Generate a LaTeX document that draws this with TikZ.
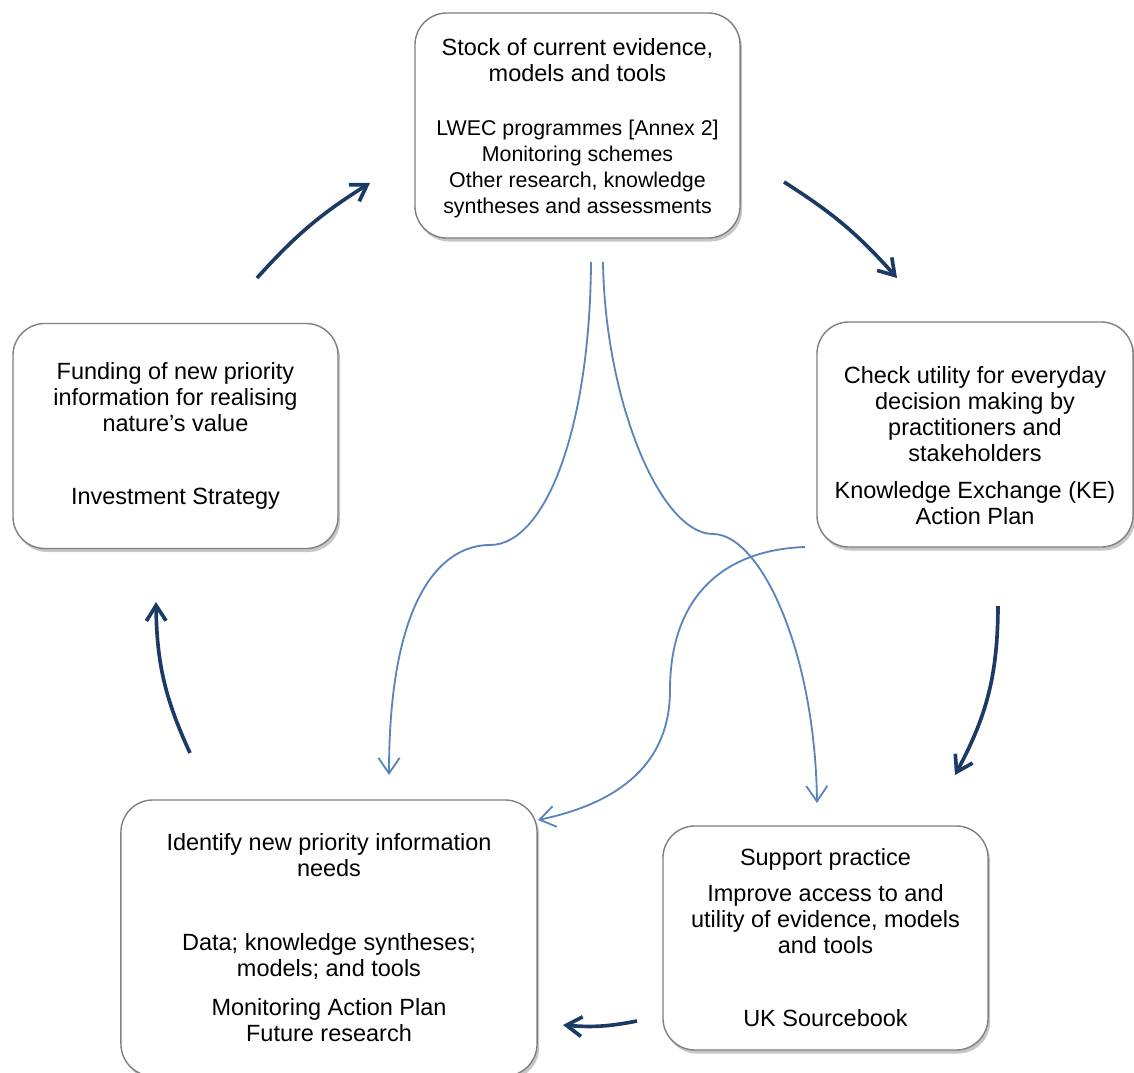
\documentclass[tikz,border=0pt]{standalone}
\usepackage{fontspec}
\setmainfont{Liberation Sans}
\usepackage{xcolor}
\usepackage{tikz}
\usetikzlibrary{arrows.meta, shadows}

\definecolor{cyclenavy}{HTML}{1B3A64}
\definecolor{flowblue}{HTML}{5A84BB}

\newcommand{\subtext}{\fontsize{15.2}{18.5}\selectfont}

\begin{document}
\begin{tikzpicture}[
    x=0.025cm, y=-0.025cm,
    every node/.style={font=\fontsize{16.7}{18.5}\selectfont},
    box/.style={draw=black!50, line width=1pt, rounded corners=0.8cm, fill=white, align=center, inner sep=0pt, minimum height=5.625cm, minimum width=#1, drop shadow={shadow xshift=1.5pt, shadow yshift=-2.5pt, opacity=0.45}},
    cycle/.style={-{Straight Barb[length=11pt, width=14pt, line width=2.6pt]}, line width=2.6pt, cyclenavy, bend left=#1},
    flow/.style={-{Straight Barb[length=11pt, width=15pt]}, line width=1.3pt, flowblue},
  ]

  \useasboundingbox (0,0) rectangle (1134,1073);

  % --- Boxes ---
  \node[box=8.125cm] (stock) at (577.5,125.5) {\rule{0pt}{0.55cm}Stock of current evidence,\\ models and tools\\[0.69cm] \subtext LWEC programmes [Annex 2]\\ \subtext Monitoring schemes\\ \subtext Other research, knowledge\\ \subtext syntheses and assessments};
  \node[box=7.9cm] (check) at (975,434.5) {\rule{0pt}{0.98cm}Check utility for everyday\\ decision making by\\ practitioners and\\ stakeholders\\[0.275cm] Knowledge Exchange (KE)\\ Action Plan};
  \node[box=8.125cm] (funding) at (175.5,436) {Funding of new priority\\ information for realising\\ nature's value\\[1.175cm] Investment Strategy};
  \node[box=10.4cm, minimum height=6.9cm] (identify) at (329,938) {Identify new priority information\\ needs\\[1.2cm] Data; knowledge syntheses;\\ models; and tools\\[0.325cm] Monitoring Action Plan\\ Future research};
  \node[box=8.125cm, minimum height=5.6cm] (support) at (825.5,938) {Support practice\\[0.25cm] Improve access to and\\ utility of evidence, models\\ and tools\\[1.175cm] UK Sourcebook};

  % --- Cycle arrow ends ---
  \coordinate (c1a) at (257,278);  \coordinate (c1b) at (370,183);
  \coordinate (c2a) at (784,182);  \coordinate (c2b) at (897,278);
  \coordinate (c3a) at (998,606);  \coordinate (c3b) at (955,775);
  \coordinate (c4a) at (637,1021); \coordinate (c4b) at (563,1025);
  \coordinate (c5a) at (190,753);  \coordinate (c5b) at (156,602);

  % --- Flow line ends ---
  \coordinate (f1) at (591,262);
  \coordinate (f2) at (603,262);
  \coordinate (f3) at (805,547);
  \coordinate (t1) at (389,775);
  \coordinate (t2) at (817,803);
  \coordinate (t3) at (538,820);

  % --- Cycle arrows ---
  \draw[cycle=8] (c1a) to (c1b);
  \draw[cycle=8] (c2a) to (c2b);
  \draw[cycle=14] (c3a) to (c3b);
  \draw[cycle=8] (c4a) to (c4b);
  \draw[cycle=12] (c5a) to (c5b);

  % --- Flow lines ---
  \draw[flow] (f1) .. controls (590,430) and (545,545) .. (490,545)
                   .. controls (440,545) and (389,600) .. (t1);
  \draw[flow] (f2) .. controls (605,400) and (660,534) .. (713,534)
                   .. controls (760,534) and (815,650) .. (t2);
  \draw[flow] (f3) .. controls (720,550) and (670,600) .. (670,690)
                   .. controls (670,770) and (610,805) .. (t3);

\end{tikzpicture}
\end{document}
